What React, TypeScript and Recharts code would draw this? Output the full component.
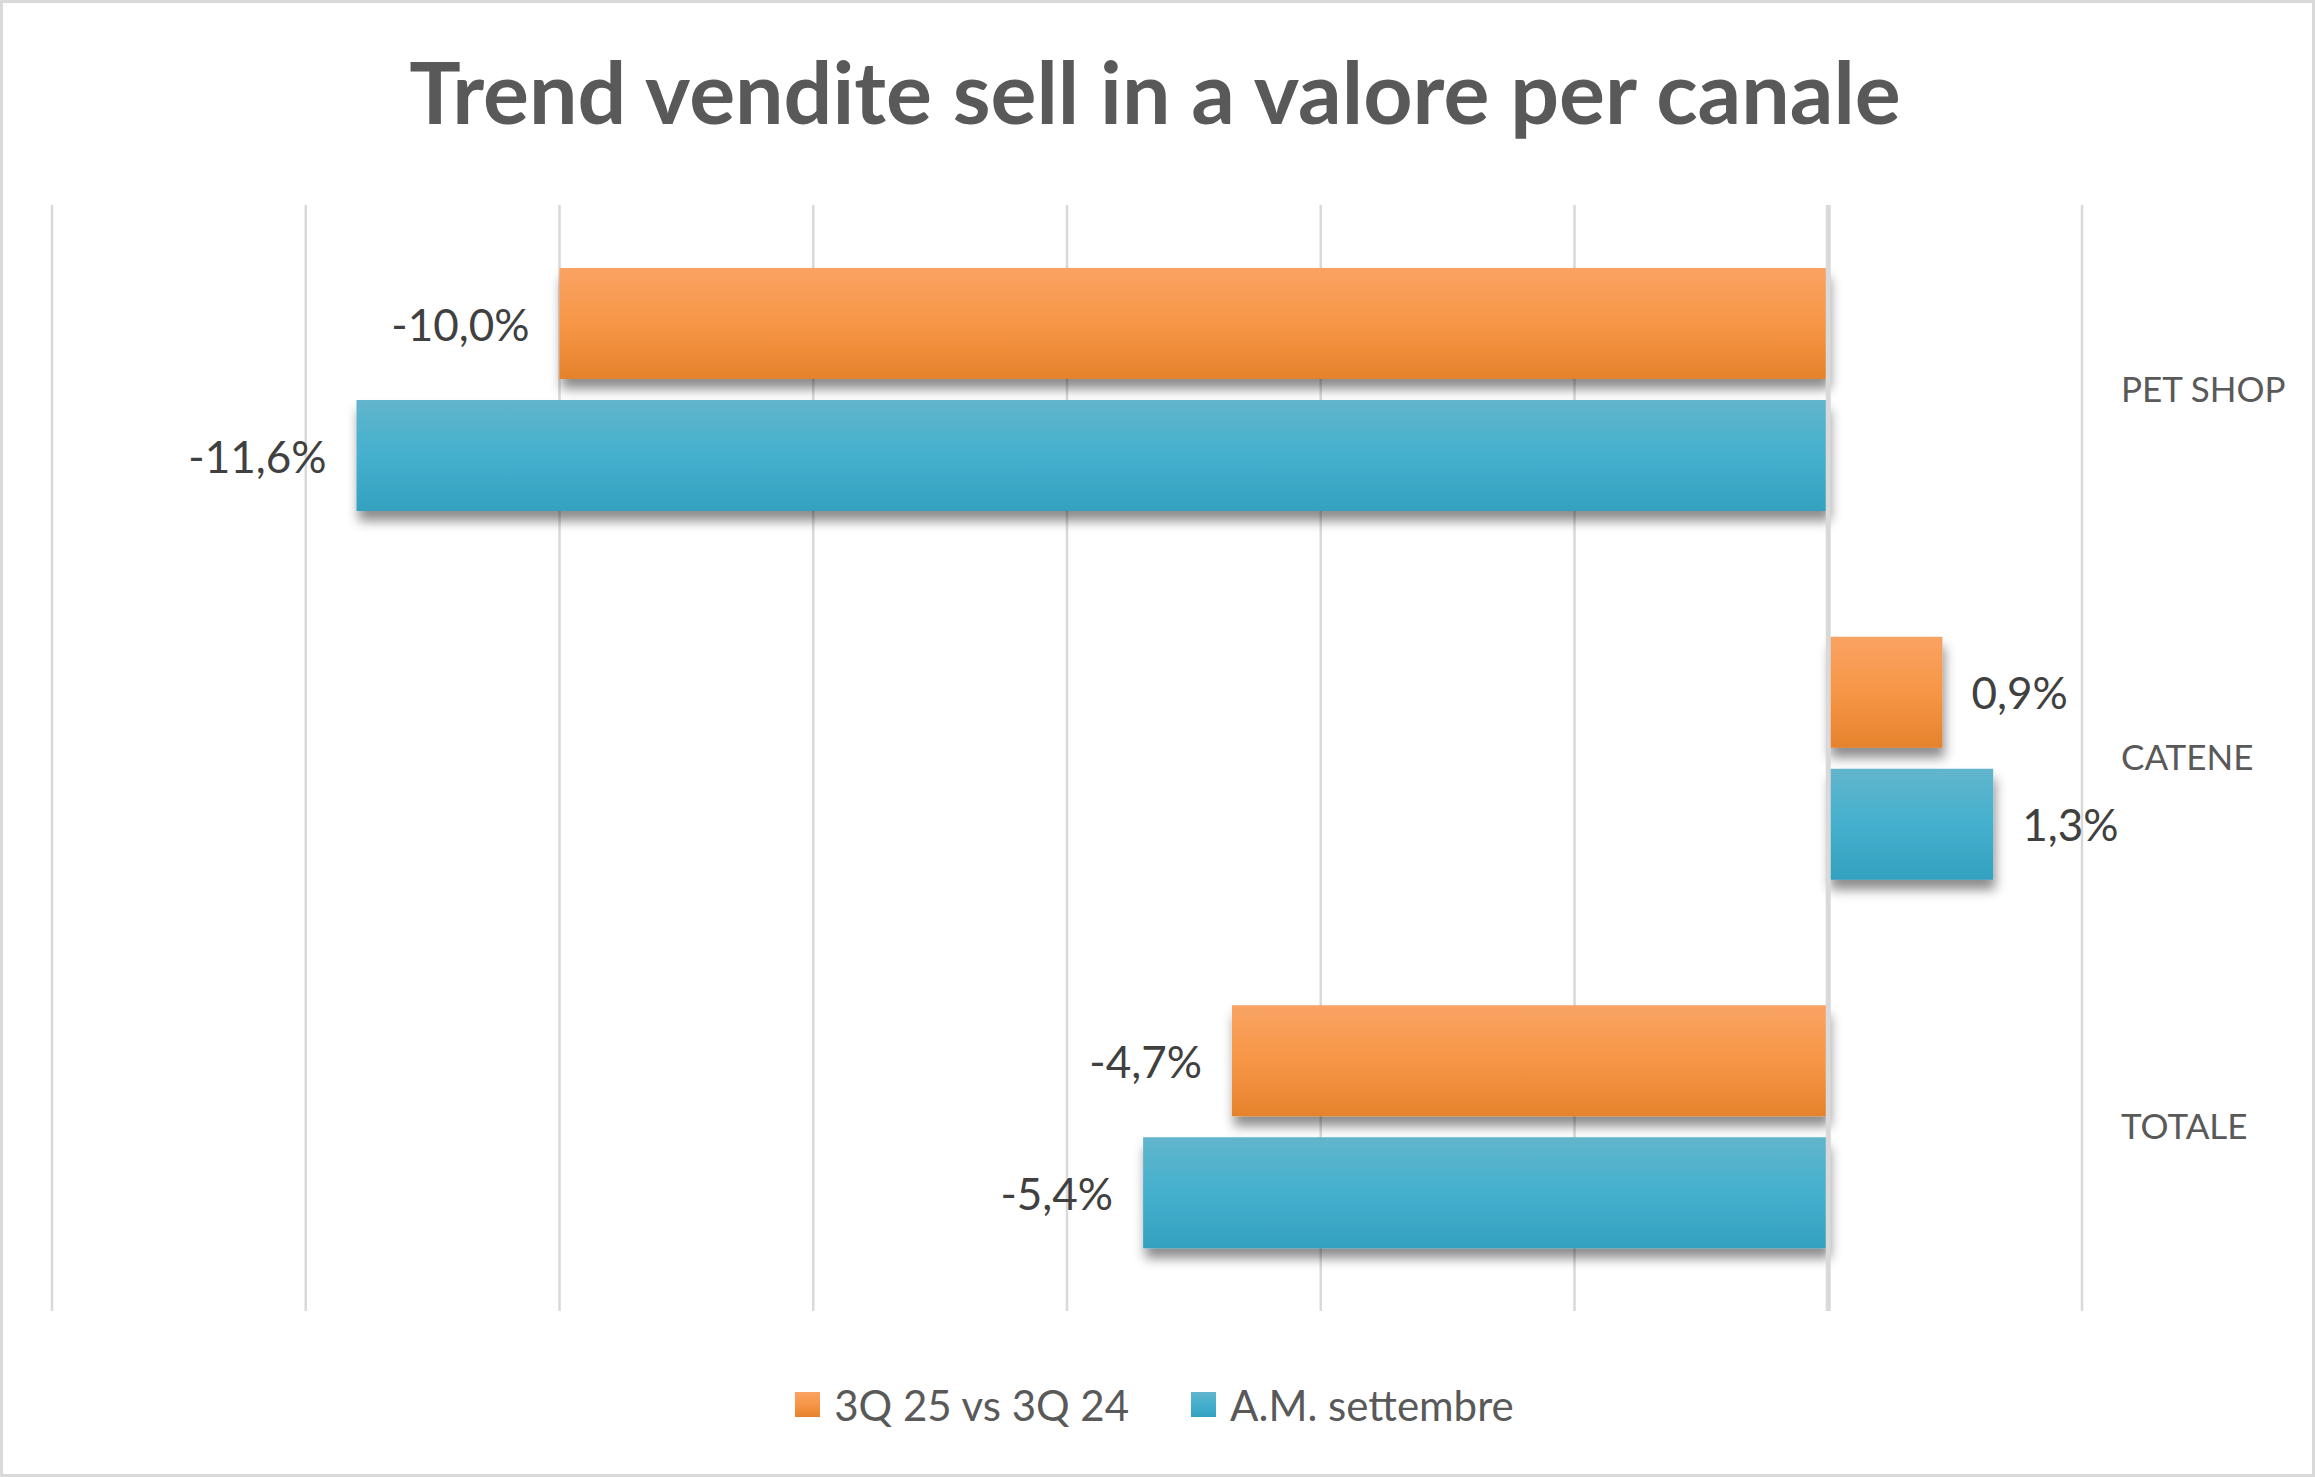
import React from "react";
import {
  BarChart,
  Bar,
  XAxis,
  YAxis,
  CartesianGrid,
  Legend,
  LabelList,
  ReferenceLine,
} from "recharts";

// canali e variazioni percentuali
const canali = ["PET SHOP", "CATENE", "TOTALE"];
const trimestre = [-10.0, 0.9, -4.7];
const annoMobile = [-11.6, 1.3, -5.4];
const serieNomi = ["3Q 25 vs 3Q 24", "A.M. settembre"];
const xTicks = [-14, -12, -10, -8, -6, -4, -2, 0, 2];

const data = canali.map((name, i) => ({
  name,
  q3: trimestre[i],
  am: annoMobile[i],
}));

const FONT = "Lato, 'Open Sans', sans-serif";
const W = 2315;
const H = 1477;

const legendBg: Record<string, string> = {
  q3: "linear-gradient(#f9a363, #f79646 50%, #e5822c)",
  am: "linear-gradient(#62b5cc, #44b0ce 50%, #33a1bf)",
};

const fmt = (v: number) => v.toFixed(1).replace(".", ",") + "%";

const renderValue = (props: any) => {
  const x = Number(props.x);
  const y = Number(props.y);
  const width = Number(props.width);
  const height = Number(props.height);
  const v = Number(props.value);
  const left = Math.min(x, x + width);
  const right = Math.max(x, x + width);
  const neg = v < 0;
  return (
    <text
      x={neg ? left - 30 : right + 29}
      y={y + height / 2}
      textAnchor={neg ? "end" : "start"}
      dominantBaseline="central"
      fontSize={44}
      fontFamily={FONT}
      fill="#404040"
    >
      {fmt(v)}
    </text>
  );
};

const renderLegend = (props: any) => {
  const { payload } = props;
  return (
    <div
      style={{
        height: 146,
        boxSizing: "border-box",
        paddingTop: 41,
        paddingRight: 58,
        display: "flex",
        justifyContent: "center",
        fontFamily: FONT,
      }}
    >
      {(payload || []).map((entry: any, i: number) => (
        <div
          key={entry.dataKey}
          style={{
            display: "flex",
            alignItems: "center",
            marginRight: i < payload.length - 1 ? 62 : 0,
          }}
        >
          <span
            style={{
              display: "inline-block",
              width: 25,
              height: 25,
              background: legendBg[entry.dataKey],
            }}
          />
          <span
            style={{
              marginLeft: 14,
              fontSize: 42,
              lineHeight: "50px",
              color: "#595959",
            }}
          >
            {entry.value}
          </span>
        </div>
      ))}
    </div>
  );
};

export default function App() {
  return (
    <div style={{ position: "relative", width: W, height: H, background: "#fff" }}>
      <style>{`body{margin:0}`}</style>
      <BarChart
        width={W}
        height={H}
        data={data}
        layout="vertical"
        margin={{ top: 205, right: 0, bottom: 20, left: 52 }}
        barGap={21}
        barSize={111}
      >
        <defs>
          <linearGradient id="gradOrange" x1="0" y1="0" x2="0" y2="1">
            <stop offset="0%" stopColor="#f9a363" />
            <stop offset="50%" stopColor="#f79646" />
            <stop offset="100%" stopColor="#e5822c" />
          </linearGradient>
          <linearGradient id="gradBlue" x1="0" y1="0" x2="0" y2="1">
            <stop offset="0%" stopColor="#62b5cc" />
            <stop offset="50%" stopColor="#44b0ce" />
            <stop offset="100%" stopColor="#33a1bf" />
          </linearGradient>
          <filter id="shadow" x="-10%" y="-20%" width="125%" height="160%">
            <feDropShadow dx="2" dy="10" stdDeviation="6" floodColor="#000" floodOpacity="0.45" />
          </filter>
        </defs>
        <text
          x={1155}
          y={124}
          textAnchor="middle"
          fontSize={86}
          fontWeight="bold"
          fontFamily={FONT}
          fill="#595959"
        >
          Trend vendite sell in a valore per canale
        </text>
        <CartesianGrid horizontal={false} stroke="#d9d9d9" strokeWidth={2.5} />
        <XAxis type="number" domain={[-14, 2]} ticks={xTicks} hide />
        <YAxis
          type="category"
          dataKey="name"
          orientation="right"
          width={233}
          axisLine={false}
          tickLine={false}
          tickSize={0}
          tickMargin={39}
          tick={{ fill: "#595959", fontSize: 35, fontFamily: FONT }}
        />
        <Legend verticalAlign="bottom" content={renderLegend} />
        <Bar
          dataKey="q3"
          name={serieNomi[0]}
          fill="url(#gradOrange)"
          filter="url(#shadow)"
          isAnimationActive={false}
        >
          <LabelList dataKey="q3" content={renderValue} />
        </Bar>
        <Bar
          dataKey="am"
          name={serieNomi[1]}
          fill="url(#gradBlue)"
          filter="url(#shadow)"
          isAnimationActive={false}
        >
          <LabelList dataKey="am" content={renderValue} />
        </Bar>
        <ReferenceLine x={0} stroke="#d9d9d9" strokeWidth={5} />
      </BarChart>
      <div
        style={{
          position: "absolute",
          inset: 0,
          border: "3px solid #d9d9d9",
          pointerEvents: "none",
        }}
      />
    </div>
  );
}
